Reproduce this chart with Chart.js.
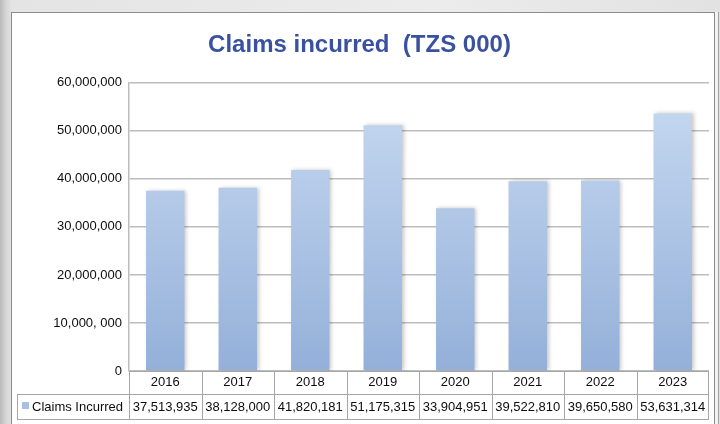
<!DOCTYPE html>
<html>
<head>
<meta charset="utf-8">
<script src="https://cdn.jsdelivr.net/npm/chart.js@4"></script>
<style>
  body { margin: 0; width: 720px; height: 424px; overflow: hidden;
         background: linear-gradient(90deg, #b9b9b9 0px, #d6d6d6 6px, #e4e4e4 12px, #ececec 60%, #e2e2e2 100%); }
  #panel { position: absolute; left: 11px; top: 12px; width: 702px; height: 420px;
           background: #fff; border: 1px solid #8c8c8c;
           box-shadow: 3px 0 0 #f2f2f2, 4px 0 0 #a0a0a0; }
  #myChart { position: absolute; left: 0; top: 0; }
</style>
</head>
<body>
<div id="panel"></div>
<canvas id="myChart" width="720" height="424"></canvas>
<script>
// data
var years = ['2016', '2017', '2018', '2019', '2020', '2021', '2022', '2023'];
var claims = [37513935, 38128000, 41820181, 51175315, 33904951, 39522810, 39650580, 53631314];
var seriesName = 'Claims Incurred';
var tickValues = [0, 10000000, 20000000, 30000000, 40000000, 50000000, 60000000];
var tickLabels = ['0', '10,000, 000', '20,000,000', '30,000,000', '40,000,000', '50,000,000', '60,000,000'];

var font = '"Liberation Sans", Arial, sans-serif';
var textColor = '#0d0d0d';
var gridColor = '#bdbdbd';
var tableColor = '#a6a6a6';

function barFill(context) {
    var area = context.chart.chartArea;
    if (!area) return '#b0c6e6';
    var g = context.chart.ctx.createLinearGradient(0, area.top, 0, area.bottom);
    g.addColorStop(0, '#c8daf1');
    g.addColorStop(1, '#94b0d9');
    return g;
}

// soft shadow behind the bars
var barShadow = {
    id: 'barShadow',
    beforeDatasetsDraw: function (chart) {
        var ctx = chart.ctx;
        ctx.save();
        ctx.shadowColor = 'rgba(0,0,0,0.22)';
        ctx.shadowBlur = 4;
        ctx.shadowOffsetX = 2;
        ctx.shadowOffsetY = 0;
    },
    afterDatasetsDraw: function (chart) {
        chart.ctx.restore();
    }
};

// data table under the x axis
var dataTable = {
    id: 'dataTable',
    afterDraw: function (chart) {
        var ctx = chart.ctx;
        var x = chart.scales.x;
        var area = chart.chartArea;
        var colW = (area.right - area.left) / years.length;
        var top = area.bottom, mid = area.bottom + 23, bot = area.bottom + 48;
        var leftCell = 17;

        ctx.save();
        ctx.strokeStyle = tableColor;
        ctx.lineWidth = 1;
        ctx.beginPath();
        ctx.moveTo(area.left, top + 0.5); ctx.lineTo(area.right, top + 0.5);
        ctx.moveTo(leftCell, mid + 0.5); ctx.lineTo(area.right, mid + 0.5);
        ctx.moveTo(leftCell, bot + 0.5); ctx.lineTo(area.right, bot + 0.5);
        ctx.moveTo(leftCell + 0.5, mid); ctx.lineTo(leftCell + 0.5, bot);
        for (var i = 0; i <= years.length; i++) {
            var bx = Math.round(x.getPixelForValue(i) - colW / 2) + 0.5;
            if (i === years.length) bx = Math.round(area.right) - 0.5;
            ctx.moveTo(bx, top); ctx.lineTo(bx, bot);
        }
        ctx.stroke();

        // legend key
        ctx.fillStyle = '#a9c0e3';
        ctx.fillRect(22, 402, 7, 7);

        ctx.fillStyle = textColor;
        ctx.font = '13px ' + font;
        ctx.textBaseline = 'middle';
        ctx.textAlign = 'left';
        ctx.fillText(seriesName, 32, (mid + bot) / 2 + 1);
        ctx.textAlign = 'center';
        for (var j = 0; j < claims.length; j++) {
            ctx.fillText(claims[j].toLocaleString('en-US'), x.getPixelForValue(j), (mid + bot) / 2 + 1);
        }
        ctx.restore();
    }
};

var ctx = document.getElementById('myChart').getContext('2d');
var myChart = new Chart(ctx, {
    type: 'bar',
    data: {
        labels: years,
        datasets: [{
            label: seriesName,
            data: claims,
            backgroundColor: barFill,
            borderWidth: 0,
            barPercentage: 0.53,
            categoryPercentage: 1
        }]
    },
    plugins: [barShadow, dataTable],
    options: {
        responsive: false,
        animation: false,
        devicePixelRatio: 1,
        layout: { padding: { left: 10, right: 11, top: 0, bottom: 5 } },
        plugins: {
            legend: { display: false },
            tooltip: { enabled: false },
            title: {
                display: true,
                text: 'Claims incurred  (TZS 000)',
                color: '#3a51a2',
                font: { family: font, size: 24, weight: 'bold' },
                padding: { top: 31, bottom: 23 }
            }
        },
        scales: {
            x: {
                offset: true,
                grid: { display: false, drawTicks: false },
                border: { display: false },
                ticks: { color: textColor, font: { family: font, size: 13 }, padding: 4, maxRotation: 0 },
                afterFit: function (scale) { scale.height = 48; }
            },
            y: {
                min: 0,
                max: 60000000,
                afterBuildTicks: function (scale) {
                    scale.ticks = tickValues.map(function (v) { return { value: v }; });
                },
                ticks: {
                    color: textColor,
                    font: { family: font, size: 13 },
                    padding: 7,
                    callback: function (value) {
                        var k = tickValues.indexOf(value);
                        return k >= 0 ? tickLabels[k] : '';
                    }
                },
                grid: { color: gridColor, lineWidth: 1.5, drawTicks: false },
                border: { display: true, color: gridColor, width: 1.5 },
                afterFit: function (scale) { scale.width = 119; }
            }
        }
    }
});
</script>
</body>
</html>
